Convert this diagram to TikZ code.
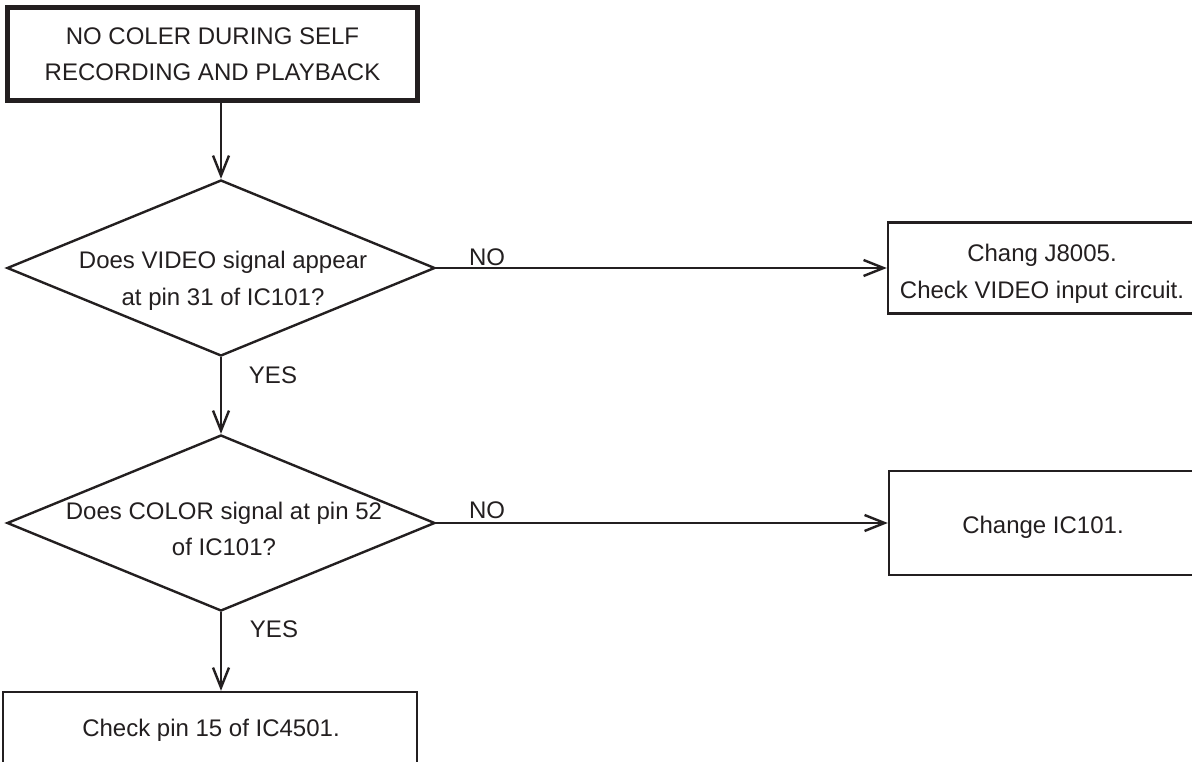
\documentclass[tikz,border=0pt]{standalone}
\usepackage{fontspec}
\setmainfont{Liberation Sans}
\usetikzlibrary{shapes.geometric,arrows.meta}
\definecolor{ink}{HTML}{231F20}
\begin{document}
\begin{tikzpicture}[x=1pt,y=-1pt,
  every node/.style={text=ink, font=\fontsize{24}{36.5}\selectfont},
  dia/.style={draw=ink, line width=2.4pt, shape=diamond, minimum width=428pt, minimum height=176pt, inner sep=0pt},
  box/.style={draw=ink, line width=2.4pt, rectangle, inner sep=0pt, align=center},
  lbl/.style={align=center, inner sep=0pt},
  arr/.style={draw=ink, line width=2.4pt, -{Straight Barb[length=20pt,width=16pt,line width=2.4pt]}}
]
\clip (0,0) rectangle (1192,761);
\useasboundingbox (0,0) rectangle (1192,761);
\fill[white] (0,0) rectangle (1192,761);

\node[box, line width=5pt, minimum width=410pt, minimum height=93pt] (top) at (212.5,54)
  {NO COLER DURING SELF\\RECORDING AND PLAYBACK};

\node[dia] (d1) at (221,268) {};
\node[lbl] (q1) at (223,281) {Does VIDEO signal appear\\at pin 31 of IC101?};

\node[dia] (d2) at (221,523) {};
\node[lbl] (q2) at (224,529) {Does COLOR signal at pin 52\\of IC101?};

\node[box, minimum width=309pt, minimum height=91pt] (b1) at (1042.5,268) {};
\node[lbl] (b1t) at (1042,274) {Chang J8005.\\Check VIDEO input circuit.};
\node[box, minimum width=308pt, minimum height=104pt] (b2) at (1043,523) {};
\node[lbl] (b2t) at (1043,527) {Change IC101.};
\node[box, minimum width=414pt, minimum height=72pt] (b3) at (210,728) {};
\node[lbl] (b3t) at (211,730) {Check pin 15 of IC4501.};

\draw[arr] (d1.north |- top.south) -- (d1.north);
\draw[arr] (d1.south) -- (d2.north);
\draw[arr] (d2.south) -- (d2.south |- b3.north);
\draw[arr] (d1.east) -- (d1.east -| b1.west);
\draw[arr] (d2.east) -- (d2.east -| b2.west);

\node[lbl] (no1) at (487,257) {NO};
\node[lbl] (no2) at (487,510) {NO};
\node[lbl] (yes1) at (273,375) {YES};
\node[lbl] (yes2) at (274,629) {YES};
\end{tikzpicture}
\end{document}
